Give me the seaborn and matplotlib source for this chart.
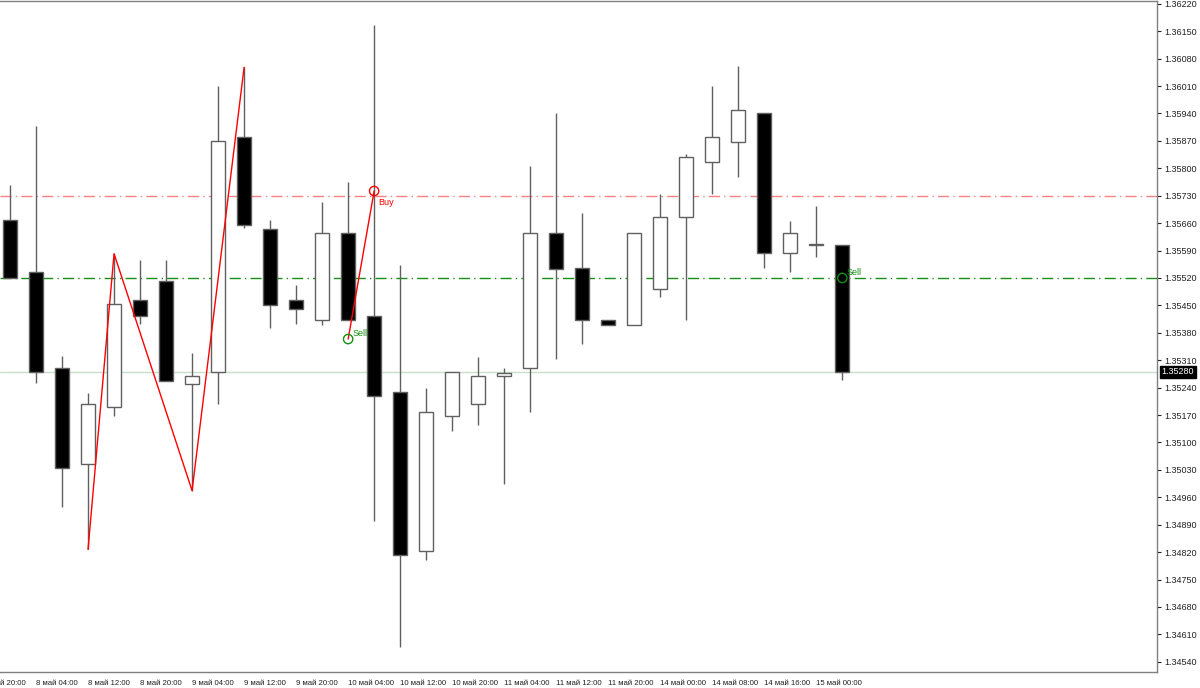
import numpy as np
import pandas as pd
import seaborn as sns
import matplotlib.pyplot as plt

sns.set_style("white")
plt.rcParams['font.family'] = ['Liberation Sans', 'DejaVu Sans']

# 4h candles, index 0 = 8 май 00:00
opens = [1.35667, 1.35534, 1.35290, 1.35046, 1.35190, 1.35463, 1.35513, 1.35250, 1.35279, 1.35879,
         1.35645, 1.35463, 1.35413, 1.35635, 1.35422, 1.35229, 1.34823, 1.35167, 1.35197, 1.35269,
         1.35289, 1.35635, 1.35545, 1.35412, 1.35401, 1.35491, 1.35675, 1.35817, 1.35868, 1.35941,
         1.35584, 1.35605, 1.35605]
highs = [1.35758, 1.35909, 1.35320, 1.35227, 1.35582, 1.35565, 1.35565, 1.35328, 1.36010, 1.36058,
         1.35667, 1.35502, 1.35715, 1.35766, 1.36165, 1.35552, 1.35238, 1.35280, 1.35319, 1.35289,
         1.35806, 1.35941, 1.35687, 1.35412, 1.35635, 1.35734, 1.35836, 1.36010, 1.36062, 1.35941,
         1.35665, 1.35705, 1.35605]
lows = [1.35520, 1.35252, 1.34935, 1.34827, 1.35168, 1.35403, 1.35258, 1.34977, 1.35197, 1.35648,
        1.35392, 1.35403, 1.35400, 1.35413, 1.34900, 1.34578, 1.34801, 1.35128, 1.35145, 1.34995,
        1.35178, 1.35313, 1.35352, 1.35401, 1.35401, 1.35472, 1.35412, 1.35734, 1.35778, 1.35545,
        1.35534, 1.35573, 1.35260]
closes = [1.35521, 1.35280, 1.35035, 1.35197, 1.35453, 1.35422, 1.35258, 1.35269, 1.35869, 1.35656,
          1.35452, 1.35442, 1.35635, 1.35413, 1.35218, 1.34812, 1.35178, 1.35280, 1.35269, 1.35278,
          1.35635, 1.35543, 1.35413, 1.35401, 1.35635, 1.35675, 1.35828, 1.35879, 1.35950, 1.35584,
          1.35635, 1.35605, 1.35280]

# zigzag
zz_idx = [3, 4, 7, 9]
zz_price = [1.34827, 1.35582, 1.34977, 1.36058]

# trade
sell_idx = [13, 32]
sell_price = [1.35364, 1.35520]
buy_idx = [14]
buy_price = [1.35742]

buy_level = 1.35730
sell_level = 1.35520
bid = 1.35280

xtick_pos = list(range(1, 33, 2))
xtick_labels = ["8 май 04:00", "8 май 12:00", "8 май 20:00", "9 май 04:00", "9 май 12:00",
                "9 май 20:00", "10 май 04:00", "10 май 12:00", "10 май 20:00", "11 май 04:00",
                "11 май 12:00", "11 май 20:00", "14 май 00:00", "14 май 08:00", "14 май 16:00",
                "15 май 00:00"]
yticks = [1.34540 + 0.0007 * k for k in range(25)]

df = pd.DataFrame({"o": opens, "h": highs, "l": lows, "c": closes})
df["i"] = np.arange(len(df))
df["bull"] = df["c"] >= df["o"]

fig = plt.figure(figsize=(12, 6.88), dpi=100)
ax = fig.add_axes([0.0, 0.0233, 0.9642, 0.9757])

edge = "#606060"
ax.vlines(df["i"], df["l"], df["h"], color=edge, lw=1, zorder=2)
body_lo = df[["o", "c"]].min(axis=1)
body_h = (df["o"] - df["c"]).abs().clip(lower=0.000005)
ax.bar(df["i"], body_h, bottom=body_lo, width=0.54,
       color=np.where(df["bull"], "white", "black"), edgecolor=edge, lw=1, zorder=3)

ax.axhline(buy_level, color="#ff8080", lw=1, ls=(0, (8, 3, 1, 3)), zorder=1)
ax.axhline(sell_level, color="#169016", lw=1, ls=(0, (8, 3, 1, 3)), zorder=1)
ax.axhline(bid, color="#c8e0c8", lw=1, zorder=1)

sns.lineplot(x=zz_idx, y=zz_price, ax=ax, color="red", lw=1, zorder=4)
sns.lineplot(x=[sell_idx[0], buy_idx[0]], y=[sell_price[0], buy_price[0]], ax=ax,
             color="red", lw=1, zorder=4)
sns.scatterplot(x=buy_idx, y=buy_price, ax=ax, s=45, marker="o",
                facecolor="none", edgecolor="red", linewidth=1, zorder=5)
sns.scatterplot(x=sell_idx, y=sell_price, ax=ax, s=45, marker="o",
                facecolor="none", edgecolor="#109010", linewidth=1, zorder=5)
ax.annotate("Buy", (buy_idx[0], buy_price[0]), xytext=(3, -10), textcoords="offset points",
            color="red", fontsize=6.5)
for xi, yi in zip(sell_idx, sell_price):
    ax.annotate("Sell", (xi, yi), xytext=(3, 2), textcoords="offset points",
                color="#109010", fontsize=6.5)

ax.set_xlim(-0.385, 44.1)
ax.set_ylim(1.34514, 1.36228)

ax.yaxis.tick_right()
ax.set_yticks(yticks)
ax.set_yticklabels([f"{v:.5f}" for v in yticks])
ax.set_xticks(xtick_pos)
ax.set_xticklabels(xtick_labels, ha="left")
ax.tick_params(axis="both", labelsize=6.5, colors="#202020", length=3, width=0.8,
               direction="out", pad=2)
ax.tick_params(axis="x", pad=3, labelsize=5.6)
ax.tick_params(axis="y", right=True, left=False)
ax.text(-1, -0.012, "7 май 20:00", transform=ax.get_xaxis_transform(), ha="left", va="top",
        fontsize=5.6, color="#202020", clip_on=False)
ax.text(1.004, bid, "1.35280", transform=ax.get_yaxis_transform(), ha="left", va="center",
        fontsize=6.5, color="white", bbox=dict(fc="black", ec="black", pad=1.2), clip_on=False)

for s in ["right", "bottom", "top"]:
    ax.spines[s].set_color("#808080")
    ax.spines[s].set_linewidth(1)
ax.spines["left"].set_visible(False)
ax.set_xlabel("")
ax.set_ylabel("")

fig.savefig("out.png", dpi=100)
